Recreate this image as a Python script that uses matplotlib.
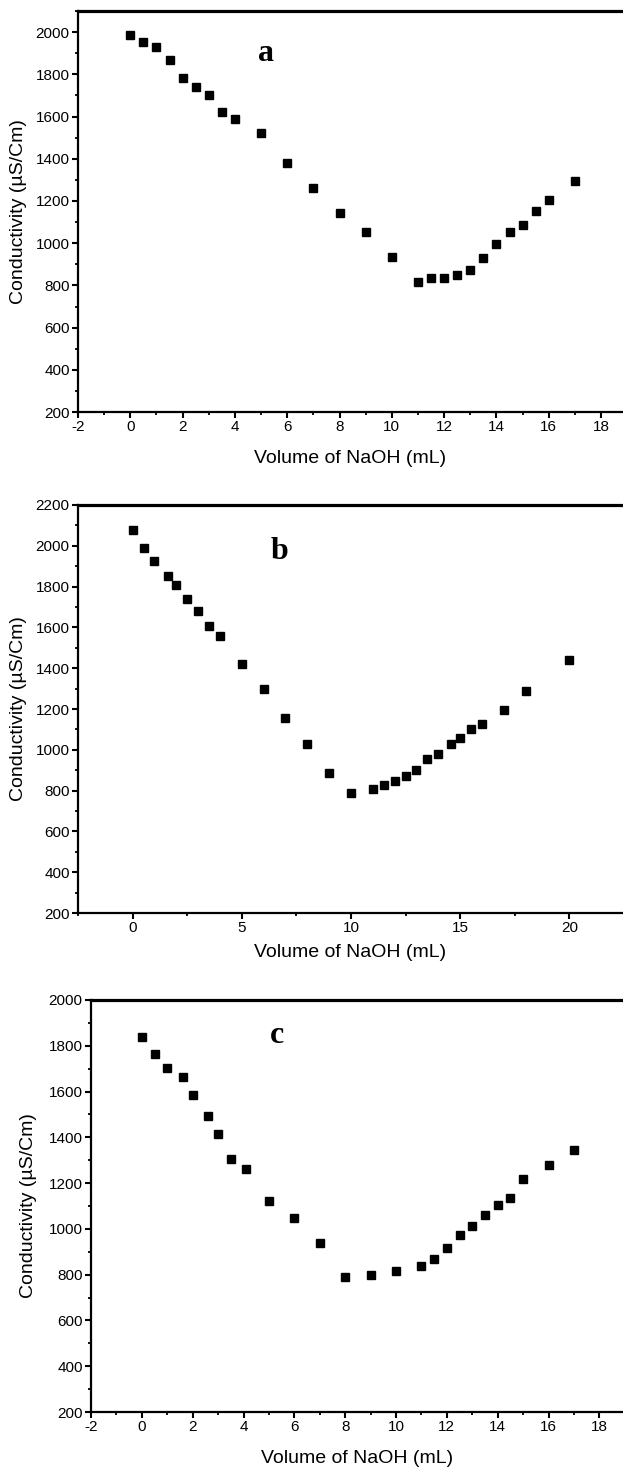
import matplotlib.pyplot as plt
from matplotlib.ticker import MultipleLocator

plt.rcParams["font.family"] = ["Liberation Sans", "DejaVu Sans"]
plt.rcParams["axes.unicode_minus"] = False

# panel a
vol_a = [0, 0.5, 1, 1.5, 2, 2.5, 3, 3.5, 4, 5, 6, 7, 8, 9, 10, 11, 11.5, 12,
         12.5, 13, 13.5, 14, 14.5, 15, 15.5, 16, 17]
cond_a = [1988, 1952, 1931, 1868, 1784, 1741, 1700, 1622, 1588, 1523, 1379,
          1263, 1143, 1053, 933, 814, 834, 833, 850, 874, 928, 996, 1054,
          1086, 1151, 1206, 1296]

# panel b
vol_b = [0, 0.5, 1, 1.6, 2, 2.5, 3, 3.5, 4, 5, 6, 7, 8, 9, 10, 11, 11.5, 12,
         12.5, 13, 13.5, 14, 14.6, 15, 15.5, 16, 17, 18, 20]
cond_b = [2079, 1987, 1927, 1853, 1807, 1740, 1680, 1606, 1558, 1419, 1297,
          1154, 1031, 887, 786, 806, 830, 845, 871, 900, 956, 982, 1031, 1056,
          1102, 1125, 1195, 1287, 1439]

# panel c
vol_c = [0, 0.5, 1, 1.6, 2, 2.6, 3, 3.5, 4.1, 5, 6, 7, 8, 9, 10, 11, 11.5, 12,
         12.5, 13, 13.5, 14, 14.5, 15, 16, 17]
cond_c = [1839, 1766, 1701, 1663, 1583, 1495, 1413, 1306, 1260, 1121, 1047,
          939, 788, 800, 817, 839, 869, 916, 973, 1012, 1062, 1103, 1133, 1220,
          1278, 1345]

panels = [
    # data, rect, xlim, ylim, xmajor, xminor, letter, letter pos, ylabel x, xlabel y
    (vol_a, cond_a, [0.1252, 0.7199, 0.8748, 0.2726], (-2, 18.84), (200, 2100),
     2, 1, "a", (0.345, 0.875), -0.11, -0.117),
    (vol_b, cond_b, [0.1252, 0.3793, 0.8748, 0.2774], (-2.5, 22.46), (200, 2200),
     5, 2.5, "b", (0.37, 0.868), -0.11, -0.096),
    (vol_c, cond_c, [0.1461, 0.0401, 0.8539, 0.2801], (-2, 18.93), (200, 2000),
     2, 1, "c", (0.35, 0.896), -0.118, -0.112),
]

fig = plt.figure(figsize=(6.23, 14.71), dpi=100)

for (x, y, rect, xl, yl, xmaj, xmin, letter, lpos, ylx, xly) in panels:
    ax = fig.add_axes(rect)
    ax.plot(x, y, "s", color="k", markersize=6)
    ax.set_xlim(*xl)
    ax.set_ylim(*yl)
    ax.xaxis.set_major_locator(MultipleLocator(xmaj))
    ax.xaxis.set_minor_locator(MultipleLocator(xmin))
    ax.yaxis.set_major_locator(MultipleLocator(200))
    ax.yaxis.set_minor_locator(MultipleLocator(100))
    ax.spines["right"].set_visible(False)
    ax.spines["top"].set_linewidth(2.3)
    ax.spines["left"].set_linewidth(1.6)
    ax.spines["bottom"].set_linewidth(1.6)
    ax.tick_params(which="major", direction="out", length=4, width=1.5,
                   labelsize=11, pad=2)
    ax.tick_params(which="minor", direction="out", length=2, width=1.3)
    ax.tick_params(top=False, right=False, which="both")
    ax.set_xlabel("Volume of NaOH (mL)", fontsize=14, va="center")
    ax.set_ylabel("Conductivity (µS/Cm)", fontsize=14, va="center")
    ax.xaxis.set_label_coords(0.5, xly)
    ax.yaxis.set_label_coords(ylx, 0.5)
    ax.text(lpos[0], lpos[1], letter, transform=ax.transAxes, ha="center",
            va="baseline", fontsize=23, fontweight="bold",
            family="Liberation Serif")

fig.savefig("out.png", dpi=100)
